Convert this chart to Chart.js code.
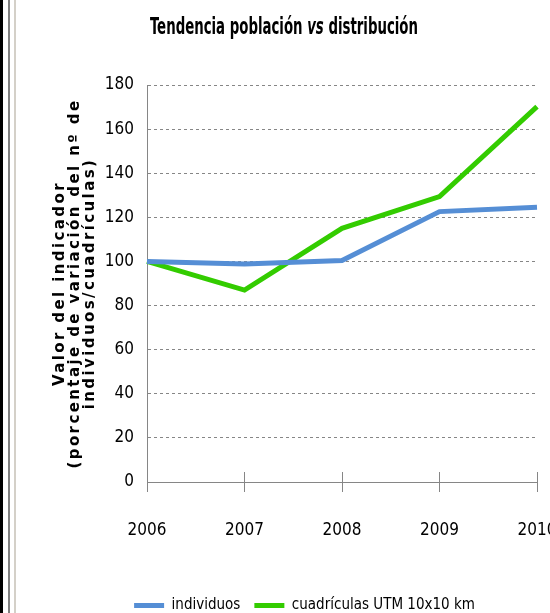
<!DOCTYPE html>
<html>
<head>
<meta charset="utf-8">
<script src="https://cdn.jsdelivr.net/npm/chart.js@4/dist/chart.umd.min.js"></script>
<style>
    html, body { margin: 0; padding: 0; background: #fff; overflow: hidden; }
    body { width: 550px; height: 613px; position: relative; }
    #wrap { position: absolute; left: 0; top: 0; width: 550px; height: 623px; }
    .marco { position: absolute; top: 0; height: 613px; }
</style>
</head>
<body>
<div id="wrap"><canvas id="grafico"></canvas></div>
<div class="marco" style="left:0; width:3px; background:#000;"></div>
<div class="marco" style="left:8px; width:2px; background:#808080;"></div>
<div class="marco" style="left:14px; width:2px; background:#d4d0c8;"></div>
<script>
// ===== Datos =====
const anios = ['2006', '2007', '2008', '2009', '2010'];
const individuos = [100, 98.8, 100.4, 122.6, 124.6];
const cuadriculas = [100, 87, 115, 129.4, 170.2];
const ticksY = [0, 20, 40, 60, 80, 100, 120, 140, 160, 180];
const tituloEjeY = ['Valor del indicador', '(porcentaje de variación del nº de', 'individuos/cuadrículas)'];

const FUENTE_NARROW = "'DejaVu Sans Condensed', 'DejaVu Sans', sans-serif";
const GRIS = '#868686';

// Título con "vs" en cursiva, comprimido a lo ancho como en el original
const tituloPlugin = {
    id: 'tituloMixto',
    afterDraw(chart) {
        const ctx = chart.ctx;
        const partes = [
            { t: 'Tendencia población ', f: 'bold 23px ' + FUENTE_NARROW },
            { t: 'vs', f: 'italic bold 23px ' + FUENTE_NARROW },
            { t: ' distribución', f: 'bold 23px ' + FUENTE_NARROW }
        ];
        ctx.save();
        let total = 0;
        partes.forEach(p => { ctx.font = p.f; p.w = ctx.measureText(p.t).width; total += p.w; });
        const sx = 268 / total;
        ctx.translate(284 - 134, 34);
        ctx.scale(sx, 1);
        ctx.fillStyle = '#000';
        ctx.textBaseline = 'alphabetic';
        ctx.textAlign = 'left';
        let x = 0;
        partes.forEach(p => { ctx.font = p.f; ctx.fillText(p.t, x, 0); x += p.w; });
        ctx.restore();
    }
};

// Título del eje Y en tres líneas, con espaciado entre letras
const tituloEjePlugin = {
    id: 'tituloEjeY',
    afterDraw(chart) {
        const ctx = chart.ctx;
        const area = chart.chartArea;
        const cy = (area.top + area.bottom) / 2;
        ctx.save();
        ctx.font = "bold 15px 'DejaVu Sans', Verdana, sans-serif";
        ctx.letterSpacing = '2.4px';
        ctx.fillStyle = '#000';
        ctx.textAlign = 'center';
        ctx.textBaseline = 'middle';
        tituloEjeY.forEach((linea, i) => {
            ctx.save();
            ctx.translate(60 + i * 15, cy);
            ctx.rotate(-Math.PI / 2);
            ctx.fillText(linea, 0, 0);
            ctx.restore();
        });
        ctx.restore();
    }
};

// Marcas del eje X que cruzan la línea del eje (también por encima)
const marcasPlugin = {
    id: 'marcasX',
    afterDraw(chart) {
        const sx = chart.scales.x;
        const ctx = chart.ctx;
        const yEje = chart.chartArea.bottom;
        ctx.save();
        ctx.strokeStyle = GRIS;
        ctx.lineWidth = 1;
        ctx.beginPath();
        sx.ticks.forEach((t, i) => {
            const px = Math.round(sx.getPixelForTick(i) - 0.5) + 0.5;
            ctx.moveTo(px, yEje - 10);
            ctx.lineTo(px, yEje);
        });
        ctx.stroke();
        ctx.restore();
    }
};

// Recoloca la leyenda (centrada más a la derecha, como en el original)
const leyendaPlugin = {
    id: 'leyendaPos',
    afterLayout(chart) {
        const lg = chart.legend;
        if (!lg) return;
        lg.left += 36;
        lg.right += 36;
    }
};

new Chart(document.getElementById('grafico'), {
    type: 'line',
    data: {
        labels: anios,
        datasets: [
            {
                label: 'individuos',
                data: individuos,
                borderColor: '#558ed5',
                backgroundColor: '#558ed5',
                borderWidth: 5,
                pointRadius: 0,
                tension: 0,
                fill: false
            },
            {
                label: 'cuadrículas UTM 10x10 km',
                data: cuadriculas,
                borderColor: '#33cc00',
                backgroundColor: '#33cc00',
                borderWidth: 5,
                pointRadius: 0,
                tension: 0,
                fill: false
            }
        ]
    },
    options: {
        responsive: true,
        maintainAspectRatio: false,
        animation: false,
        layout: { padding: { top: 85, left: 0, right: 13, bottom: 0 } },
        plugins: {
            title: { display: false },
            tooltip: { enabled: false },
            legend: {
                position: 'bottom',
                labels: {
                    color: '#000',
                    font: { family: FUENTE_NARROW, size: 15 },
                    usePointStyle: true,
                    pointStyle: 'line',
                    pointStyleWidth: 30,
                    padding: 14
                }
            }
        },
        scales: {
            x: {
                offset: false,
                ticks: { color: '#000', font: { family: FUENTE_NARROW, size: 17 }, padding: 28, maxRotation: 0 },
                grid: { drawOnChartArea: false, drawTicks: true, tickLength: 10, color: GRIS },
                border: { display: true, color: GRIS, width: 1 },
                afterFit: s => { s.height = 102; s.paddingLeft = 0; s.paddingRight = 0; }
            },
            y: {
                min: 0,
                max: 180,
                afterBuildTicks: s => { s.ticks = ticksY.map(v => ({ value: v })); },
                ticks: { color: '#000', font: { family: FUENTE_NARROW, size: 17 }, padding: 13 },
                grid: {
                    drawTicks: false,
                    color: ctx => ctx.tick && ctx.tick.value === 0 ? 'rgba(0,0,0,0)' : GRIS
                },
                border: { display: true, color: GRIS, width: 1, dash: [3, 3] },
                title: { display: false },
                afterFit: s => { s.width = 147; }
            }
        }
    },
    plugins: [tituloPlugin, tituloEjePlugin, marcasPlugin, leyendaPlugin]
});
</script>
</body>
</html>
